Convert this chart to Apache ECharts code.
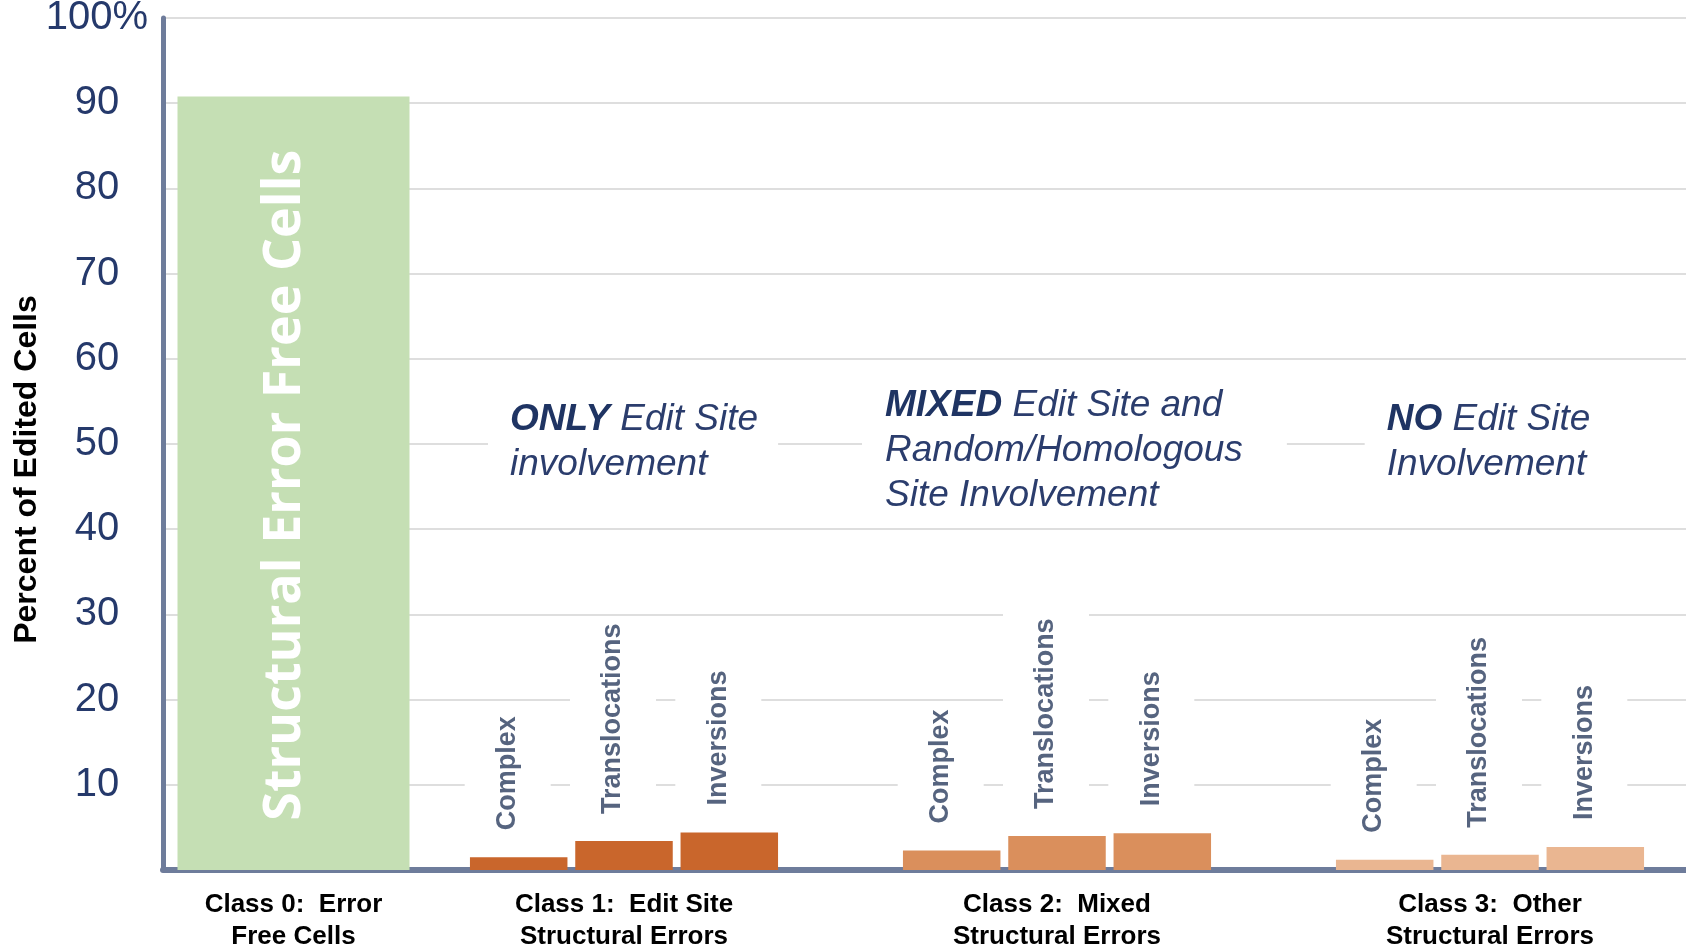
<!DOCTYPE html>
<html>
<head>
<meta charset="utf-8">
<script src="https://cdn.jsdelivr.net/npm/echarts@6/dist/echarts.min.js"></script>
<style>
  html, body { margin: 0; padding: 0; background: #ffffff; }
  #chart { width: 1686px; height: 951px; }
</style>
</head>
<body>
<div id="chart"></div>
<script>
// ---------- data ----------
const errorFreeCategory = ['Class 0:  Error\nFree Cells'];
const errorClassCategories = [
  'Class 1:  Edit Site\nStructural Errors',
  'Class 2:  Mixed\nStructural Errors',
  'Class 3:  Other\nStructural Errors'
];
const errorFreeValues = [90.8];
const complexValues = [1.5, 2.3, 1.2];
const translocationValues = [3.4, 4.0, 1.8];
const inversionValues = [4.4, 4.3, 2.7];
const errorSeriesNames = ['Complex', 'Translocations', 'Inversions'];
const yTickLabels = ['', '10', '20', '30', '40', '50', '60', '70', '80', '90', '100%'];
const errorFreeBarText = 'Structural Error Free Cells';
const yAxisTitle = 'Percent of Edited Cells';
const annotationOnly = ['ONLY', ' Edit Site', 'involvement'];
const annotationMixed = ['MIXED', ' Edit Site and', 'Random/Homologous', 'Site Involvement'];
const annotationNo = ['NO', ' Edit Site', 'Involvement'];

// ---------- styles ----------
const classColors = ['#c9662c', '#da8f5c', '#eab691'];
const greenColor = '#c5dfb4';
const axisColor = '#6e7c9b';
const gridColor = '#dedede';
const navy = '#25396b';
const FONT = 'Liberation Sans, Arial, Helvetica, sans-serif';

const chart = echarts.init(document.getElementById('chart'), null, { renderer: 'canvas' });

function yAxisCommon(showLabels) {
  return {
    type: 'value', min: 0, max: 100, interval: 10,
    axisLine: { show: showLabels, lineStyle: { color: axisColor, width: 5 } },
    axisTick: { show: false },
    splitLine: { show: true, lineStyle: { color: gridColor, width: 2 } },
    axisLabel: {
      show: showLabels,
      formatter: function (v) { return yTickLabels[Math.round(v / 10)]; },
      color: navy, fontSize: 40, fontFamily: FONT,
      align: 'center', margin: 66, padding: [6, 0, 0, 0]
    }
  };
}

function xAxisCommon(cats, gridIndex) {
  return {
    type: 'category', gridIndex: gridIndex, data: cats,
    axisLine: { show: true, lineStyle: { color: axisColor, width: 6 } },
    axisTick: { show: false },
    axisLabel: {
      interval: 0, color: '#000', fontSize: 26, fontWeight: 'bold',
      fontFamily: FONT, lineHeight: 32, margin: 19
    }
  };
}

const errorData = [complexValues, translocationValues, inversionValues];

const errorSeries = errorSeriesNames.map(function (name, i) {
  return {
    name: name,
    type: 'bar',
    xAxisIndex: 1, yAxisIndex: 1,
    data: errorData[i],
    barWidth: 97.5,
    barGap: '8%',
    itemStyle: { color: function (p) { return classColors[p.dataIndex]; } },
    label: {
      show: true, position: 'top', rotate: 90, align: 'left', verticalAlign: 'middle',
      distance: 21, formatter: '{a}', offset: [0, -11],
      color: '#56647f', fontSize: 27, fontWeight: 'bold', fontFamily: FONT, lineHeight: 27,
      backgroundColor: '#ffffff', padding: [15, 6, 44, 6]
    },
    emphasis: { disabled: true },
    z: 3
  };
});

function annotation(parts, x, y, padding) {
  const lines = [];
  lines.push('{b|' + parts[0] + '}' + parts[1]);
  for (let i = 2; i < parts.length; i++) lines.push(parts[i]);
  return {
    type: 'text', x: x, y: y, z: 100,
    style: {
      text: lines.join('\n'),
      fill: '#2b3d6d', fontSize: 37, fontStyle: 'italic', fontFamily: FONT,
      lineHeight: 45, align: 'left', verticalAlign: 'top',
      backgroundColor: '#ffffff', padding: padding,
      rich: {
        b: { fontWeight: 'bold', fontStyle: 'italic', fontSize: 37, fontFamily: FONT,
             fill: '#1f3463', color: '#1f3463', lineHeight: 45 }
      }
    }
  };
}

const option = {
  backgroundColor: '#ffffff',
  animation: false,
  grid: [
    { left: 163, top: 18, width: 261, height: 852, outerBoundsMode: 'none', containLabel: false },
    { left: 407.5, top: 18, width: 1299, height: 852, outerBoundsMode: 'none', containLabel: false }
  ],
  xAxis: [xAxisCommon(errorFreeCategory, 0), xAxisCommon(errorClassCategories, 1)],
  yAxis: [
    Object.assign(yAxisCommon(true), { gridIndex: 0 }),
    Object.assign(yAxisCommon(false), { gridIndex: 1 })
  ],
  series: [
    {
      name: 'Error Free', type: 'bar', xAxisIndex: 0, yAxisIndex: 0,
      data: errorFreeValues, barWidth: 232,
      itemStyle: { color: greenColor },
      label: {
        show: true, position: 'inside', rotate: 90, formatter: errorFreeBarText,
        color: '#ffffff', fontSize: 52, fontWeight: 'bold', fontFamily: 'Open Sans, sans-serif',
        offset: [-2, -8]
      },
      emphasis: { disabled: true },
      z: 3
    }
  ].concat(errorSeries),
  graphic: [
    {
      type: 'text', x: 27, y: 469.5, rotation: Math.PI / 2, z: 100,
      style: {
        text: yAxisTitle, fill: '#000', fontSize: 32, fontWeight: 'bold',
        fontFamily: FONT, align: 'center', verticalAlign: 'middle'
      }
    },
    annotation(annotationOnly, 488, 391.7, [6, 20, 2, 22]),
    annotation(annotationMixed, 862, 375.7, [8, 44, 4, 23]),
    annotation(annotationNo, 1364.7, 391.7, [6, 150, 2, 22])
  ]
};

chart.setOption(option);
</script>
</body>
</html>
